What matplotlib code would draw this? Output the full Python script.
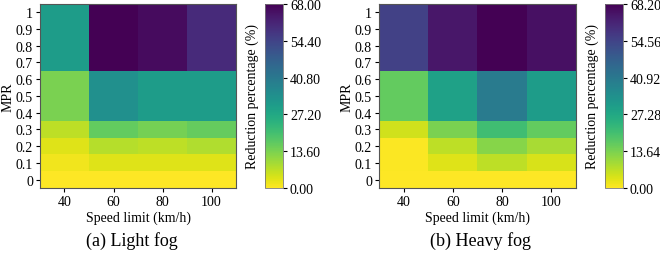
import numpy as np
import matplotlib.pyplot as plt

plt.rcParams['font.family'] = ['Liberation Serif', 'DejaVu Serif']
plt.rcParams['font.size'] = 10

# speed limit columns and MPR rows (cell edges, rows 0.4-0.6 and 0.7-1 are merged blocks)
speed_ticks = [40, 60, 80, 100]
speed_edges = [30, 50, 70, 90, 110]
mpr_ticks = [0, 0.1, 0.2, 0.3, 0.4, 0.5, 0.6, 0.7, 0.8, 0.9, 1]
mpr_edges = [-0.05, 0.05, 0.15, 0.25, 0.35, 0.65, 1.05]

# reduction percentage (%), rows: MPR 0, 0.1, 0.2, 0.3, 0.4-0.6, 0.7-1
light_fog = np.array([
    [0.0, 0.0, 0.0, 0.0],
    [1.4, 3.4, 3.4, 3.2],
    [3.4, 7.5, 6.8, 8.2],
    [6.8, 16.3, 14.3, 16.0],
    [13.8, 34.0, 30.6, 30.8],
    [30.6, 68.0, 66.0, 60.0],
])
heavy_fog = np.array([
    [0.0, 0.0, 0.0, 0.0],
    [0.3, 3.2, 6.8, 4.0],
    [0.5, 6.8, 12.3, 8.9],
    [4.8, 13.6, 21.0, 16.4],
    [16.4, 29.3, 40.0, 30.7],
    [55.0, 64.0, 68.2, 65.5],
])

panels = [
    (light_fog, 68.0, '(a) Light fog', 132, [0.0606, 0.259, 0.297, 0.7216], [0.4015, 0.259, 0.0273, 0.7216]),
    (heavy_fog, 68.2, '(b) Heavy fog', 480, [0.5742, 0.259, 0.2985, 0.7216], [0.9167, 0.259, 0.0273, 0.7216]),
]

fig = plt.figure(figsize=(6.6, 2.55), dpi=100)

for data, vmax, caption, cap_x, ax_pos, cb_pos in panels:
    ax = fig.add_axes(ax_pos)
    cax = fig.add_axes(cb_pos)
    mesh = ax.pcolormesh(speed_edges, mpr_edges, data, cmap='viridis_r', vmin=0, vmax=vmax)
    ax.set_xticks(speed_ticks)
    ax.set_yticks(mpr_ticks)
    ax.set_yticklabels([f'{v:g}' for v in mpr_ticks])
    ax.set_xlim(30, 110)
    ax.set_ylim(-0.05, 1.05)
    ax.set_xlabel('Speed limit (km/h)', labelpad=2)
    ax.set_ylabel('MPR', labelpad=1)
    ax.tick_params(length=3, pad=2)
    for sp in ax.spines.values():
        sp.set_color('#555555')

    cb = fig.colorbar(mesh, cax=cax)
    cb.set_ticks(np.linspace(0, vmax, 6))
    cb.ax.set_yticklabels([f'{t:.2f}' for t in np.linspace(0, vmax, 6)])
    cb.ax.yaxis.set_label_position('left')
    cb.set_label('Reduction percentage (%)', labelpad=4)
    cb.ax.tick_params(length=3, pad=2)
    cb.outline.set_edgecolor('#777777')
    cb.outline.set_linewidth(0.6)

    fig.text(cap_x / 660, 1 - 241 / 255, caption, ha='center', va='center', fontsize=13)

fig.savefig('out.png', dpi=100)
